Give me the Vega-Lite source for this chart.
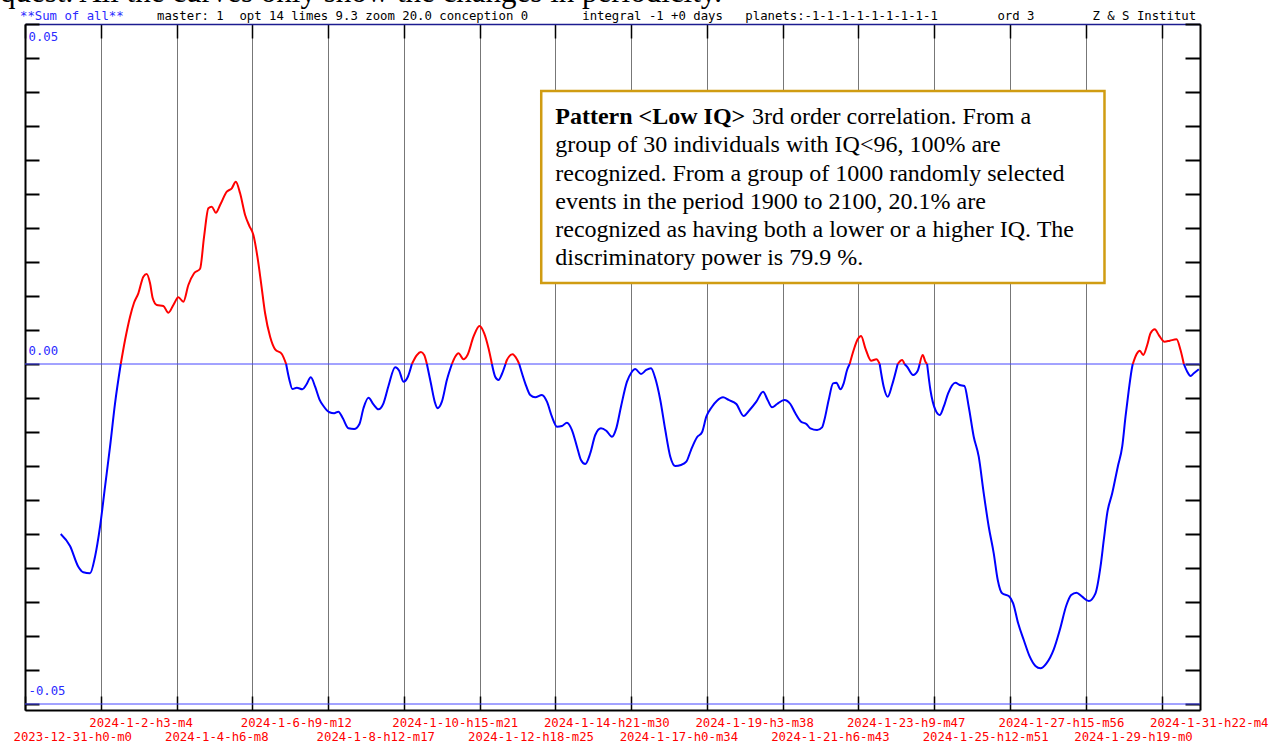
{
"$schema": "https://vega.github.io/schema/vega-lite/v6.json",
"width": 1175, "height": 686,
"autosize": {"type": "none"},
"padding": {"left": 25, "top": 24, "right": 78, "bottom": 32},
"background": "white",
"config": {"view": {"stroke": null}, "font": "DejaVu Sans Mono"},
"datasets": {
"curve": [
{"h":24.07,"v":-0.025,"s":1,"c":"n"},{"h":30.35,"v":-0.02676,"s":1,"c":"n"},{"h":35.94,"v":-0.02981,"s":1,"c":"n"},{"h":39.31,"v":-0.03063,"s":1,"c":"n"},{"h":43.83,"v":-0.03078,"s":1,"c":"n"},{"h":47.2,"v":-0.02834,"s":1,"c":"n"},{"h":50.58,"v":-0.02393,"s":1,"c":"n"},{"h":53.95,"v":-0.01804,"s":1,"c":"n"},{"h":57.32,"v":-0.01216,"s":1,"c":"n"},{"h":60.69,"v":-0.00578,"s":1,"c":"n"},{"h":64.54,"v":0,"s":1,"c":"n"},
{"h":64.54,"v":0,"s":2,"c":"p"},{"h":67.44,"v":0.00353,"s":2,"c":"p"},{"h":70.81,"v":0.00696,"s":2,"c":"p"},{"h":73.5,"v":0.00901,"s":2,"c":"p"},{"h":76.4,"v":0.0104,"s":2,"c":"p"},{"h":79.78,"v":0.01284,"s":2,"c":"p"},{"h":82.07,"v":0.01324,"s":2,"c":"p"},{"h":84.29,"v":0.01187,"s":2,"c":"p"},{"h":86.11,"v":0.00966,"s":2,"c":"p"},{"h":88.81,"v":0.00868,"s":2,"c":"p"},{"h":93.26,"v":0.00853,"s":2,"c":"p"},{"h":96.63,"v":0.00754,"s":2,"c":"p"},{"h":100.01,"v":0.00868,"s":2,"c":"p"},{"h":103.38,"v":0.00981,"s":2,"c":"p"},{"h":106.75,"v":0.00916,"s":2,"c":"p"},{"h":110.12,"v":0.01162,"s":2,"c":"p"},{"h":113.97,"v":0.01334,"s":2,"c":"p"},{"h":118.01,"v":0.01401,"s":2,"c":"p"},{"h":120.71,"v":0.01872,"s":2,"c":"p"},{"h":123.61,"v":0.0229,"s":2,"c":"p"},{"h":125.9,"v":0.02313,"s":2,"c":"p"},{"h":128.6,"v":0.02225,"s":2,"c":"p"},{"h":131.5,"v":0.02338,"s":2,"c":"p"},{"h":136.02,"v":0.02534,"s":2,"c":"p"},{"h":139.39,"v":0.02584,"s":2,"c":"p"},{"h":142.09,"v":0.02681,"s":2,"c":"p"},{"h":144.99,"v":0.0251,"s":2,"c":"p"},{"h":148.36,"v":0.02191,"s":2,"c":"p"},{"h":151.26,"v":0.02029,"s":2,"c":"p"},{"h":153.95,"v":0.01897,"s":2,"c":"p"},{"h":156.65,"v":0.01578,"s":2,"c":"p"},{"h":159.15,"v":0.01187,"s":2,"c":"p"},{"h":161.84,"v":0.00746,"s":2,"c":"p"},{"h":165.22,"v":0.00401,"s":2,"c":"p"},{"h":168.59,"v":0.00216,"s":2,"c":"p"},{"h":173.1,"v":0.00147,"s":2,"c":"p"},{"h":176.01,"v":0,"s":2,"c":"p"},
{"h":176.01,"v":0,"s":3,"c":"n"},{"h":178.23,"v":-0.00235,"s":3,"c":"n"},{"h":180.25,"v":-0.00368,"s":3,"c":"n"},{"h":183.22,"v":-0.00349,"s":3,"c":"n"},{"h":187.0,"v":-0.00372,"s":3,"c":"n"},{"h":189.49,"v":-0.00309,"s":3,"c":"n"},{"h":192.66,"v":-0.00196,"s":3,"c":"n"},{"h":195.56,"v":-0.00334,"s":3,"c":"n"},{"h":198.46,"v":-0.00519,"s":3,"c":"n"},{"h":201.16,"v":-0.00618,"s":3,"c":"n"},{"h":205.2,"v":-0.0071,"s":3,"c":"n"},{"h":208.37,"v":-0.00725,"s":3,"c":"n"},{"h":211.27,"v":-0.00701,"s":3,"c":"n"},{"h":214.24,"v":-0.00799,"s":3,"c":"n"},{"h":218.02,"v":-0.00946,"s":3,"c":"n"},{"h":221.86,"v":-0.00956,"s":3,"c":"n"},{"h":225.44,"v":-0.00882,"s":3,"c":"n"},{"h":228.13,"v":-0.00651,"s":3,"c":"n"},{"h":231.5,"v":-0.00496,"s":3,"c":"n"},{"h":234.88,"v":-0.00593,"s":3,"c":"n"},{"h":238.25,"v":-0.00666,"s":3,"c":"n"},{"h":241.62,"v":-0.00578,"s":3,"c":"n"},{"h":244.99,"v":-0.00324,"s":3,"c":"n"},{"h":249.51,"v":-0.00049,"s":3,"c":"n"},{"h":252.21,"v":-0.00099,"s":3,"c":"n"},{"h":255.11,"v":-0.0026,"s":3,"c":"n"},{"h":258.07,"v":-0.00187,"s":3,"c":"n"},{"h":260.77,"v":0,"s":3,"c":"n"},
{"h":260.77,"v":0,"s":4,"c":"p"},{"h":264.14,"v":0.00132,"s":4,"c":"p"},{"h":266.84,"v":0.00176,"s":4,"c":"p"},{"h":269.07,"v":0.00132,"s":4,"c":"p"},{"h":270.89,"v":0,"s":4,"c":"p"},
{"h":270.89,"v":0,"s":5,"c":"n"},{"h":273.58,"v":-0.00284,"s":5,"c":"n"},{"h":276.48,"v":-0.00578,"s":5,"c":"n"},{"h":278.04,"v":-0.00651,"s":5,"c":"n"},{"h":281.0,"v":-0.00554,"s":5,"c":"n"},{"h":284.37,"v":-0.00235,"s":5,"c":"n"},{"h":287.75,"v":0,"s":5,"c":"n"},
{"h":287.75,"v":0,"s":6,"c":"p"},{"h":289.97,"v":0.00107,"s":6,"c":"p"},{"h":292.2,"v":0.00157,"s":6,"c":"p"},{"h":295.57,"v":0.00069,"s":6,"c":"p"},{"h":298.26,"v":0.00132,"s":6,"c":"p"},{"h":302.31,"v":0.00401,"s":6,"c":"p"},{"h":306.36,"v":0.00559,"s":6,"c":"p"},{"h":309.53,"v":0.00451,"s":6,"c":"p"},{"h":312.43,"v":0.00231,"s":6,"c":"p"},{"h":314.72,"v":0,"s":6,"c":"p"},
{"h":314.72,"v":0,"s":7,"c":"n"},{"h":316.94,"v":-0.00187,"s":7,"c":"n"},{"h":319.17,"v":-0.00235,"s":7,"c":"n"},{"h":321.46,"v":-0.00147,"s":7,"c":"n"},{"h":323.89,"v":0,"s":7,"c":"n"},
{"h":323.89,"v":0,"s":8,"c":"p"},{"h":324.83,"v":0.00059,"s":8,"c":"p"},{"h":328.61,"v":0.00143,"s":8,"c":"p"},{"h":331.58,"v":0.00069,"s":8,"c":"p"},{"h":333.13,"v":0,"s":8,"c":"p"},
{"h":333.13,"v":0,"s":9,"c":"n"},{"h":337.18,"v":-0.00284,"s":9,"c":"n"},{"h":340.55,"v":-0.00456,"s":9,"c":"n"},{"h":343.92,"v":-0.0049,"s":9,"c":"n"},{"h":348.44,"v":-0.00456,"s":9,"c":"n"},{"h":351.81,"v":-0.00554,"s":9,"c":"n"},{"h":355.18,"v":-0.00775,"s":9,"c":"n"},{"h":358.55,"v":-0.00922,"s":9,"c":"n"},{"h":361.92,"v":-0.00912,"s":9,"c":"n"},{"h":365.3,"v":-0.00863,"s":9,"c":"n"},{"h":368.67,"v":-0.00971,"s":9,"c":"n"},{"h":372.04,"v":-0.01216,"s":9,"c":"n"},{"h":374.74,"v":-0.01412,"s":9,"c":"n"},{"h":377.64,"v":-0.01471,"s":9,"c":"n"},{"h":381.01,"v":-0.01313,"s":9,"c":"n"},{"h":384.38,"v":-0.01044,"s":9,"c":"n"},{"h":388.22,"v":-0.00946,"s":9,"c":"n"},{"h":391.8,"v":-0.00981,"s":9,"c":"n"},{"h":395.64,"v":-0.01069,"s":9,"c":"n"},{"h":398.54,"v":-0.00946,"s":9,"c":"n"},{"h":401.71,"v":-0.00628,"s":9,"c":"n"},{"h":405.76,"v":-0.0026,"s":9,"c":"n"},{"h":408.66,"v":-0.00128,"s":9,"c":"n"},{"h":411.35,"v":-0.00074,"s":9,"c":"n"},{"h":415.2,"v":-0.00147,"s":9,"c":"n"},{"h":418.77,"v":-0.00088,"s":9,"c":"n"},{"h":421.94,"v":-0.00063,"s":9,"c":"n"},{"h":424.84,"v":-0.0021,"s":9,"c":"n"},{"h":428.21,"v":-0.00529,"s":9,"c":"n"},{"h":431.58,"v":-0.00971,"s":9,"c":"n"},{"h":434.96,"v":-0.01363,"s":9,"c":"n"},{"h":438.33,"v":-0.015,"s":9,"c":"n"},{"h":442.17,"v":-0.01485,"s":9,"c":"n"},{"h":445.75,"v":-0.01437,"s":9,"c":"n"},{"h":448.92,"v":-0.01265,"s":9,"c":"n"},{"h":452.96,"v":-0.01078,"s":9,"c":"n"},{"h":456.33,"v":-0.01004,"s":9,"c":"n"},{"h":459.23,"v":-0.00775,"s":9,"c":"n"},{"h":463.08,"v":-0.00628,"s":9,"c":"n"},{"h":466.45,"v":-0.0054,"s":9,"c":"n"},{"h":470.49,"v":-0.0049,"s":9,"c":"n"},{"h":474.27,"v":-0.00529,"s":9,"c":"n"},{"h":479.46,"v":-0.00588,"s":9,"c":"n"},{"h":484.39,"v":-0.00765,"s":9,"c":"n"},{"h":488.43,"v":-0.00676,"s":9,"c":"n"},{"h":492.95,"v":-0.00554,"s":9,"c":"n"},{"h":497.47,"v":-0.00407,"s":9,"c":"n"},{"h":500.57,"v":-0.00529,"s":9,"c":"n"},{"h":503.54,"v":-0.00637,"s":9,"c":"n"},{"h":506.91,"v":-0.00588,"s":9,"c":"n"},{"h":511.83,"v":-0.00529,"s":9,"c":"n"},{"h":515.88,"v":-0.00588,"s":9,"c":"n"},{"h":519.25,"v":-0.00725,"s":9,"c":"n"},{"h":523.09,"v":-0.00849,"s":9,"c":"n"},{"h":526.67,"v":-0.00882,"s":9,"c":"n"},{"h":529.36,"v":-0.00946,"s":9,"c":"n"},{"h":533.88,"v":-0.00971,"s":9,"c":"n"},{"h":537.25,"v":-0.00931,"s":9,"c":"n"},{"h":538.81,"v":-0.00824,"s":9,"c":"n"},{"h":541.71,"v":-0.00529,"s":9,"c":"n"},{"h":544.67,"v":-0.00284,"s":9,"c":"n"},{"h":546.9,"v":-0.00275,"s":9,"c":"n"},{"h":549.6,"v":-0.00372,"s":9,"c":"n"},{"h":551.82,"v":-0.00284,"s":9,"c":"n"},{"h":554.11,"v":-0.00088,"s":9,"c":"n"},{"h":555.87,"v":0,"s":9,"c":"n"},
{"h":555.87,"v":0,"s":10,"c":"p"},{"h":558.57,"v":0.00206,"s":10,"c":"p"},{"h":561.26,"v":0.00363,"s":10,"c":"p"},{"h":563.56,"v":0.00412,"s":10,"c":"p"},{"h":566.45,"v":0.00231,"s":10,"c":"p"},{"h":570.3,"v":0.00049,"s":10,"c":"p"},{"h":573.87,"v":0.00069,"s":10,"c":"p"},{"h":576.1,"v":0,"s":10,"c":"p"},
{"h":576.1,"v":0,"s":11,"c":"n"},{"h":578.8,"v":-0.00334,"s":11,"c":"n"},{"h":581.49,"v":-0.00481,"s":11,"c":"n"},{"h":584.46,"v":-0.00309,"s":11,"c":"n"},{"h":588.24,"v":0,"s":11,"c":"n"},
{"h":588.24,"v":0,"s":12,"c":"p"},{"h":591.2,"v":0.00059,"s":12,"c":"p"},{"h":592.75,"v":0,"s":12,"c":"p"},
{"h":592.75,"v":0,"s":13,"c":"n"},{"h":594.57,"v":-0.0004,"s":13,"c":"n"},{"h":598.62,"v":-0.00162,"s":13,"c":"n"},{"h":601.72,"v":-0.00099,"s":13,"c":"n"},{"h":603.07,"v":0,"s":13,"c":"n"},
{"h":603.07,"v":0,"s":14,"c":"p"},{"h":605.09,"v":0.00132,"s":14,"c":"p"},{"h":606.92,"v":0.00034,"s":14,"c":"p"},{"h":608.06,"v":0,"s":14,"c":"p"},
{"h":608.06,"v":0,"s":15,"c":"n"},{"h":610.29,"v":-0.00382,"s":15,"c":"n"},{"h":613.66,"v":-0.00676,"s":15,"c":"n"},{"h":616.56,"v":-0.0075,"s":15,"c":"n"},{"h":619.25,"v":-0.00628,"s":15,"c":"n"},{"h":622.22,"v":-0.00431,"s":15,"c":"n"},{"h":627.15,"v":-0.00275,"s":15,"c":"n"},{"h":630.05,"v":-0.00309,"s":15,"c":"n"},{"h":633.21,"v":-0.00324,"s":15,"c":"n"},{"h":636.11,"v":-0.00628,"s":15,"c":"n"},{"h":639.49,"v":-0.01069,"s":15,"c":"n"},{"h":642.86,"v":-0.01363,"s":15,"c":"n"},{"h":646.23,"v":-0.01902,"s":15,"c":"n"},{"h":649.6,"v":-0.02393,"s":15,"c":"n"},{"h":652.97,"v":-0.02784,"s":15,"c":"n"},{"h":655.67,"v":-0.03176,"s":15,"c":"n"},{"h":658.64,"v":-0.03372,"s":15,"c":"n"},{"h":663.09,"v":-0.03412,"s":15,"c":"n"},{"h":666.06,"v":-0.03519,"s":15,"c":"n"},{"h":669.43,"v":-0.03813,"s":15,"c":"n"},{"h":673.22,"v":-0.04059,"s":15,"c":"n"},{"h":677.25,"v":-0.04304,"s":15,"c":"n"},{"h":681.09,"v":-0.04441,"s":15,"c":"n"},{"h":684.47,"v":-0.04475,"s":15,"c":"n"},{"h":688.51,"v":-0.04402,"s":15,"c":"n"},{"h":693.43,"v":-0.04196,"s":15,"c":"n"},{"h":697.48,"v":-0.03912,"s":15,"c":"n"},{"h":702.0,"v":-0.03544,"s":15,"c":"n"},{"h":705.17,"v":-0.03397,"s":15,"c":"n"},{"h":708.74,"v":-0.03363,"s":15,"c":"n"},{"h":712.59,"v":-0.03422,"s":15,"c":"n"},{"h":717.03,"v":-0.03485,"s":15,"c":"n"},{"h":721.55,"v":-0.03372,"s":15,"c":"n"},{"h":724.93,"v":-0.02981,"s":15,"c":"n"},{"h":727.15,"v":-0.02588,"s":15,"c":"n"},{"h":729.44,"v":-0.02196,"s":15,"c":"n"},{"h":732.82,"v":-0.01902,"s":15,"c":"n"},{"h":736.59,"v":-0.0151,"s":15,"c":"n"},{"h":739.56,"v":-0.01216,"s":15,"c":"n"},{"h":741.79,"v":-0.00775,"s":15,"c":"n"},{"h":744.01,"v":-0.00382,"s":15,"c":"n"},{"h":746.3,"v":-0.0004,"s":15,"c":"n"},{"h":746.71,"v":0,"s":15,"c":"n"},
{"h":746.71,"v":0,"s":16,"c":"p"},{"h":749.2,"v":0.00143,"s":16,"c":"p"},{"h":751.43,"v":0.00196,"s":16,"c":"p"},{"h":753.72,"v":0.00132,"s":16,"c":"p"},{"h":756.42,"v":0.00279,"s":16,"c":"p"},{"h":758.64,"v":0.00451,"s":16,"c":"p"},{"h":761.54,"v":0.0051,"s":16,"c":"p"},{"h":764.24,"v":0.00426,"s":16,"c":"p"},{"h":768.08,"v":0.00328,"s":16,"c":"p"},{"h":771.66,"v":0.00343,"s":16,"c":"p"},{"h":776.18,"v":0.00363,"s":16,"c":"p"},{"h":778.87,"v":0.00206,"s":16,"c":"p"},{"h":781.1,"v":0,"s":16,"c":"p"},
{"h":781.1,"v":0,"s":17,"c":"n"},{"h":783.39,"v":-0.00113,"s":17,"c":"n"},{"h":785.62,"v":-0.00176,"s":17,"c":"n"},{"h":787.84,"v":-0.00137,"s":17,"c":"n"},{"h":791.22,"v":-0.00078,"s":17,"c":"n"}
],
"header": [
{"h":-3.37,"v":0.051103,"t":"**Sum of all**"},
{"h":89.01,"v":0.051103,"t":"master: 1"},
{"h":144.5,"v":0.051103,"t":"opt 14 limes 9.3 zoom 20.0 conception 0"},
{"h":375.61,"v":0.051103,"t":"integral -1 +0 days"},
{"h":485.53,"v":0.051103,"t":"planets:-1-1-1-1-1-1-1-1-1"},
{"h":655.47,"v":0.051103,"t":"ord 3"},
{"h":719.53,"v":0.051103,"t":"Z & S Institut"}
],
"refs": [{"v":0},{"v":-0.05}],
"box": [{"h1":347.96,"h2":727.62,"v1":0.011912,"v2":0.040147}],
"bold": [{"h":357.41,"v":0.036324,"t":"Pattern <Low IQ>"}],
"para": [
{"h":490.0,"v":0.036324,"t":"3rd order correlation. From a"},
{"h":357.41,"v":0.032162,"t":"group of 30 individuals with IQ<96, 100% are"},
{"h":357.41,"v":0.028,"t":"recognized. From a group of 1000 randomly selected"},
{"h":357.41,"v":0.023838,"t":"events in the period 1900 to 2100, 20.1% are"},
{"h":357.41,"v":0.019677,"t":"recognized as having both a lower or a higher IQ. The"},
{"h":357.41,"v":0.015515,"t":"discriminatory power is 79.9 %."}
],
"clipped": [{"h":-16.86,"v":0.053236,"t":"quest. All the curves only show the changes in periodicity."}]
},
"layer": [
{
"data": {"name": "refs"},
"mark": {"type": "rule", "color": "#4646ff", "strokeWidth": 1},
"encoding": {
"y": {"field": "v", "type": "quantitative",
"scale": {"domain": [-0.050882, 0.05], "nice": false, "zero": false},
"axis": {"orient": "right", "title": null, "grid": false, "labels": false,
"values": [-0.05,-0.045,-0.04,-0.035,-0.03,-0.025,-0.02,-0.015,-0.01,-0.005,0,0.005,0.01,0.015,0.02,0.025,0.03,0.035,0.04,0.045,0.05],
"domain": true, "domainColor": "#000000", "domainWidth": 2,
"ticks": true, "tickColor": "#000000", "tickWidth": 2, "tickSize": -15}}
}
},
{
"data": {"name": "curve"},
"mark": {"type": "line", "strokeWidth": 2, "interpolate": "monotone"},
"encoding": {
"x": {"field": "h", "type": "quantitative",
"scale": {"domain": [0, 792], "nice": false, "zero": false},
"axis": {"orient": "bottom", "title": null,
"values": [0,51.067,102.133,153.2,204.283,255.35,306.417,357.5,408.567,459.633,510.717,561.783,612.85,663.933,715,766.067],
"grid": true, "gridColor": "#777777", "gridWidth": 1,
"domain": true, "domainColor": "#000000", "domainWidth": 2,
"ticks": true, "tickColor": "#000000", "tickWidth": 1.5, "tickSize": -14,
"labelExpr": "(round(datum.value / 51.0711) % 2 == 0) ? ['', utcFormat(1703980800000 + round(datum.value * 60) * 60000, '%Y-%-m-%-d-h%-H-m%-M')] : utcFormat(1703980800000 + round(datum.value * 60) * 60000, '%Y-%-m-%-d-h%-H-m%-M')",
"labelColor": "#ff0000", "labelFont": "DejaVu Sans Mono", "labelFontSize": 12.3,
"labelAlign": "left", "labelBaseline": "top", "labelOffset": -12, "labelPadding": 20,
"labelLineHeight": 14, "labelOverlap": false, "labelFlush": false, "labelBound": false}},
"y": {"field": "v", "type": "quantitative",
"scale": {"domain": [-0.050882, 0.05], "nice": false, "zero": false},
"axis": {"orient": "left", "title": null, "grid": false,
"values": [-0.05,-0.045,-0.04,-0.035,-0.03,-0.025,-0.02,-0.015,-0.01,-0.005,0,0.005,0.01,0.015,0.02,0.025,0.03,0.035,0.04,0.045,0.05],
"domain": true, "domainColor": "#000000", "domainWidth": 2,
"ticks": true, "tickColor": "#000000", "tickWidth": 2, "tickSize": -14,
"labelExpr": "datum.value > 0.0475 ? '0.05' : (datum.value < -0.0475 ? '-0.05' : (abs(datum.value) < 0.001 ? '0.00' : ''))",
"labelColor": "#2a2aff", "labelFont": "DejaVu Sans Mono", "labelFontSize": 12.3,
"labelAlign": "left", "labelBaseline": "middle", "labelPadding": 11,
"labelOffset": {"condition": {"test": "datum.value > 0.0475", "value": 12}, "value": -14},
"labelOverlap": false, "labelFlush": false, "labelBound": false}},
"color": {"field": "c", "type": "nominal", "scale": {"domain": ["p", "n"], "range": ["#ff0000", "#0000ff"]}, "legend": null},
"detail": {"field": "s", "type": "nominal"}
}
},
{
"data": {"name": "header"},
"mark": {"type": "text", "align": "left", "baseline": "middle", "font": "DejaVu Sans Mono", "fontSize": 12.3},
"encoding": {
"x": {"field": "h", "type": "quantitative",
"scale": {"domain": [0, 792], "nice": false, "zero": false},
"axis": {"orient": "top", "title": null, "grid": false, "labels": false,
"values": [0,51.067,102.133,153.2,204.283,255.35,306.417,357.5,408.567,459.633,510.717,561.783,612.85,663.933,715,766.067],
"domain": true, "domainColor": "#1c1c90", "domainWidth": 1.5,
"ticks": true, "tickColor": "#000000", "tickWidth": 1.5, "tickSize": -14}},
"y": {"field": "v", "type": "quantitative", "scale": {"domain": [-0.050882, 0.05], "nice": false, "zero": false}, "axis": null},
"text": {"field": "t"},
"color": {"condition": {"test": "datum.t == '**Sum of all**'", "value": "#2a2aff"}, "value": "#000000"}
}
},
{
"data": {"name": "clipped"},
"mark": {"type": "text", "align": "left", "baseline": "alphabetic", "font": "Liberation Serif", "fontSize": 31, "color": "#000000"},
"encoding": {
"x": {"field": "h", "type": "quantitative", "scale": {"domain": [0, 792], "nice": false, "zero": false}, "axis": null},
"y": {"field": "v", "type": "quantitative", "scale": {"domain": [-0.050882, 0.05], "nice": false, "zero": false}, "axis": null},
"text": {"field": "t"}
}
},
{
"data": {"name": "box"},
"mark": {"type": "rect", "fill": "#ffffff", "stroke": "#d09c12", "strokeWidth": 2.5},
"encoding": {
"x": {"field": "h1", "type": "quantitative", "scale": {"domain": [0, 792], "nice": false, "zero": false}, "axis": null},
"x2": {"field": "h2"},
"y": {"field": "v1", "type": "quantitative", "scale": {"domain": [-0.050882, 0.05], "nice": false, "zero": false}, "axis": null},
"y2": {"field": "v2"}
}
},
{
"data": {"name": "bold"},
"mark": {"type": "text", "align": "left", "baseline": "middle", "font": "Liberation Serif", "fontSize": 24, "fontWeight": "bold", "color": "#000000"},
"encoding": {
"x": {"field": "h", "type": "quantitative", "scale": {"domain": [0, 792], "nice": false, "zero": false}, "axis": null},
"y": {"field": "v", "type": "quantitative", "scale": {"domain": [-0.050882, 0.05], "nice": false, "zero": false}, "axis": null},
"text": {"field": "t"}
}
},
{
"data": {"name": "para"},
"mark": {"type": "text", "align": "left", "baseline": "middle", "font": "Liberation Serif", "fontSize": 24, "color": "#000000"},
"encoding": {
"x": {"field": "h", "type": "quantitative", "scale": {"domain": [0, 792], "nice": false, "zero": false}, "axis": null},
"y": {"field": "v", "type": "quantitative", "scale": {"domain": [-0.050882, 0.05], "nice": false, "zero": false}, "axis": null},
"text": {"field": "t"}
}
}
],
"resolve": {"axis": {"x": "independent", "y": "independent"}}
}
